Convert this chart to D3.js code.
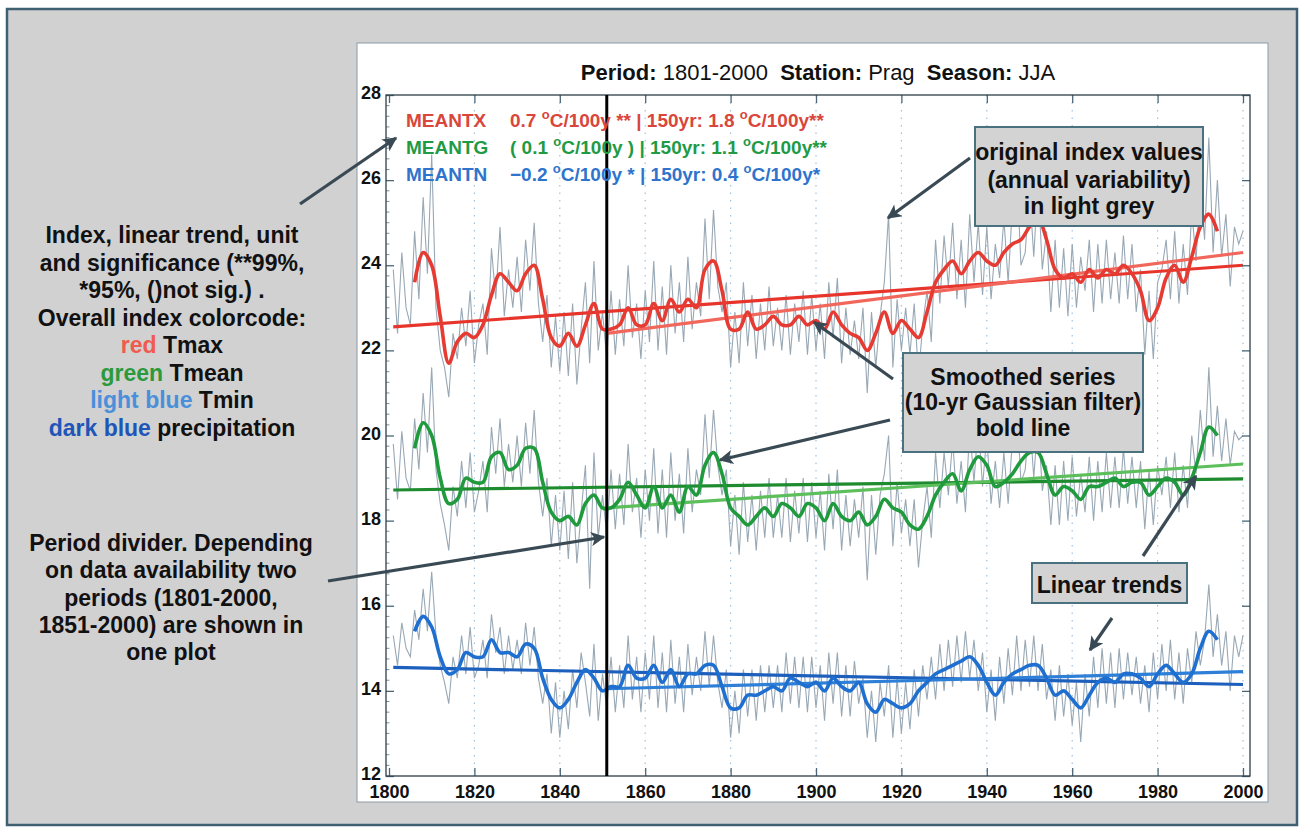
<!DOCTYPE html>
<html>
<head>
<meta charset="utf-8">
<script src="https://cdn.jsdelivr.net/npm/d3@7"></script>
<style>
  body { margin: 0; background: #fff; }
  text { font-family: "Liberation Sans", Arial, Helvetica, sans-serif; }
</style>
</head>
<body>
<div id="chart"></div>
<script>
// ---- data ----
const years = d3.range(1801, 2001);
const smoothYears = d3.range(1806, 1996, 2);

// MEANTX (Tmax) annual values
const tx = [
  23.9, 22.4, 24.3, 23.0, 22.6, 24.8, 23.2, 25.6, 23.8, 26.6,
  23.0, 22.0, 21.6, 20.9, 22.4, 21.8, 23.0, 22.1, 23.4, 21.7,
  22.6, 23.1, 21.9, 24.4, 23.2, 24.9, 22.8, 23.9, 23.0, 24.2,
  22.9, 24.6, 23.4, 25.0, 23.1, 22.2, 23.3, 21.6, 22.8, 21.5,
  22.9, 21.4, 23.1, 21.2, 22.5, 23.6, 21.7, 24.1, 22.0, 22.9,
  21.8, 23.4, 21.9, 23.2, 22.1, 24.0, 22.3, 23.1, 21.8, 23.4,
  22.2, 24.1, 22.0, 23.5, 21.9, 24.0, 22.4, 23.6, 22.2, 24.2,
  22.5, 23.6, 22.8, 25.1, 23.2, 25.3, 23.5, 22.9, 23.6, 21.6,
  22.9, 21.7, 23.6, 22.1, 23.3, 21.8, 23.1, 22.0, 23.5, 22.1,
  23.0, 22.0, 23.3, 21.9, 23.1, 22.2, 23.4, 21.9, 23.3, 22.0,
  23.1, 21.8, 23.6, 22.3, 23.7, 21.7, 23.0, 21.9, 22.7, 21.8,
  23.0, 21.0, 22.9, 21.6, 22.8, 23.6, 25.2, 21.6, 23.2, 22.0,
  23.0, 21.9, 23.1, 21.4, 22.6, 23.4, 22.2, 24.6, 23.1, 24.7,
  23.5, 25.0, 23.2, 24.6, 23.0, 25.2, 23.6, 25.0, 23.3, 24.9,
  23.2, 24.5, 23.7, 25.1, 23.6, 25.4, 26.3, 24.0, 24.3, 25.8,
  24.2, 26.0, 23.9, 24.8, 22.9, 24.6, 23.0, 24.4, 22.8, 24.5,
  23.0, 24.2, 23.4, 24.6, 22.9, 24.5, 23.1, 24.6, 23.2, 24.3,
  23.1, 24.7, 23.2, 24.5, 22.9, 23.9, 21.9, 23.4, 21.8, 23.6,
  23.9, 24.6, 23.2, 24.8, 23.1, 24.5, 23.3, 25.3, 24.1, 25.9,
  24.6, 27.0, 24.3, 26.0, 24.2, 25.2, 23.5, 24.9, 24.5, 24.8
];

// MEANTG (Tmean) annual values
const tg = [
  19.8, 18.5, 20.1, 19.0, 18.7, 20.4, 19.2, 21.0, 19.6, 21.6,
  19.2, 18.4, 17.9, 17.3, 18.8, 18.1, 19.4, 18.3, 19.6, 18.2,
  18.7, 19.4, 18.2, 20.2, 19.1, 20.4, 18.8, 19.8, 18.9, 20.0,
  18.8, 20.3, 19.1, 20.6, 18.9, 18.1, 19.0, 17.4, 18.6, 17.3,
  18.7, 17.1, 18.9, 17.0, 18.2, 19.3, 16.4, 19.6, 17.6, 18.6,
  17.7, 19.2, 17.8, 19.1, 17.9, 19.8, 18.2, 19.0, 17.6, 19.2,
  18.0, 19.7, 17.7, 19.2, 17.6, 19.6, 18.0, 19.1, 17.7, 19.7,
  18.2, 19.2, 18.6, 20.5, 19.0, 20.6, 19.3, 18.6, 19.2, 17.4,
  18.6, 17.2, 18.9, 17.5, 18.6, 17.3, 18.7, 17.6, 19.0, 17.6,
  18.6, 17.6, 19.0, 17.5, 18.7, 17.7, 19.0, 17.5, 18.9, 17.6,
  18.7, 17.3, 19.1, 17.8, 19.2, 17.3, 18.6, 17.4, 18.5, 17.6,
  18.8, 16.6, 18.6, 17.2, 18.6, 19.1, 20.0, 17.4, 18.9, 17.7,
  18.5, 17.4, 18.5, 16.9, 18.0, 18.8, 17.6, 19.6, 18.3, 19.6,
  18.6, 19.9, 18.4, 19.4, 18.2, 20.2, 18.9, 20.3, 18.8, 20.0,
  18.4, 19.4, 18.3, 19.6, 18.4, 19.9, 20.8, 18.9, 19.2, 20.5,
  19.0, 20.4, 18.7, 19.3, 17.9, 19.3, 17.9, 19.4, 18.0, 19.5,
  18.1, 19.1, 18.2, 19.5, 18.0, 19.4, 18.2, 19.6, 18.3, 19.5,
  18.3, 19.7, 18.4, 19.5, 18.3, 19.4, 17.8, 19.2, 17.9, 19.3,
  18.6, 19.5, 18.3, 19.6, 18.2, 19.3, 18.3, 20.0, 19.1, 20.6,
  19.4, 21.6, 19.5, 20.7, 19.4, 20.4, 19.3, 20.1, 19.9, 20.0
];

// MEANTN (Tmin) annual values
const tn = [
  15.3, 14.6, 15.6, 15.0, 14.8, 15.9, 15.2, 16.4, 15.4, 16.8,
  15.3, 14.6, 14.2, 13.7, 14.8, 14.3, 15.3, 14.4, 15.5, 14.3,
  14.6, 15.2, 14.3, 15.8, 14.9, 15.5, 14.4, 15.3, 14.5, 15.2,
  14.4, 15.6, 14.6, 15.5, 14.3, 13.7, 14.4, 13.0, 14.2, 12.9,
  14.0, 13.1, 14.5, 13.6, 14.9, 14.2, 13.4, 15.1, 13.3, 14.4,
  13.6, 14.8, 13.5, 14.6, 13.6, 15.3, 13.8, 14.8, 13.5, 14.9,
  13.8, 15.3, 13.6, 14.9, 13.5, 15.2, 13.7, 14.8, 13.5, 15.1,
  13.9, 14.8, 14.0, 15.4, 14.1, 15.3, 14.2, 13.6, 14.5, 12.9,
  14.0, 13.0, 14.5, 13.4, 14.5, 13.3, 14.6, 13.5, 14.6, 13.6,
  14.6, 13.5, 14.9, 13.7, 14.8, 13.6, 14.8, 13.5, 14.8, 13.6,
  14.6, 13.3, 14.9, 13.7, 14.9, 13.4, 14.6, 13.4, 14.7, 13.7,
  14.3, 12.9, 14.0, 12.8, 14.2, 13.4, 14.6, 12.9, 14.3, 13.0,
  14.2, 13.1, 14.5, 13.4, 14.6, 13.8, 14.8, 13.8, 15.1, 14.0,
  15.2, 14.1, 15.3, 14.2, 15.4, 14.3, 15.2, 14.0, 14.9, 13.5,
  14.5, 13.3, 14.8, 13.7, 15.0, 13.9, 15.3, 14.0, 15.2, 14.1,
  15.3, 14.0, 15.1, 13.8, 14.5, 13.3, 14.6, 13.4, 14.4, 13.2,
  14.2, 12.8, 14.4, 13.4, 14.8, 13.6, 15.0, 13.7, 14.9, 13.6,
  15.0, 13.8, 14.9, 13.9, 14.8, 13.7, 14.6, 13.5, 14.9, 13.8,
  15.1, 14.0, 15.2, 13.8, 14.9, 13.7, 15.0, 14.2, 15.4, 14.6,
  15.2, 16.5, 14.8, 15.8, 14.6, 15.4, 14.0, 15.3, 14.8, 15.3
];

// 10-yr Gaussian smoothed series (bold lines), every 2nd year 1806-1994
const txSmooth = [
  23.6, 24.3, 24.0, 22.8, 21.7, 22.2, 22.4, 22.3, 22.6, 23.3, 23.8, 23.6,
  23.4, 23.8, 24.0, 23.2, 22.3, 22.1, 22.4, 22.1, 22.6, 23.1, 22.5,
  22.5, 22.6, 23.0, 22.6, 22.6, 23.1, 22.7, 23.2, 22.9, 23.2,
  23.0, 23.9, 24.1, 23.4, 22.5, 22.5, 22.9, 22.5, 22.6, 22.8,
  22.6, 22.6, 22.8, 22.6, 22.7, 22.5, 22.9, 22.6, 22.4, 22.3,
  22.0, 22.4, 22.9, 22.4, 22.7, 22.5, 22.3, 22.9, 23.6, 23.9,
  24.1, 23.8, 24.1, 24.3, 24.1, 24.0, 24.3, 24.5, 24.6, 24.9,
  25.1, 24.6, 23.9, 23.7, 23.8, 23.6, 23.9, 23.7, 23.9, 23.8,
  24.0, 23.8, 23.4, 22.7, 23.0, 23.7, 24.0, 23.6, 24.2, 24.9,
  25.2, 24.8
];
const tgSmooth = [
  19.7, 20.3, 20.0, 19.0, 18.4, 18.5, 19.0, 18.9, 18.9, 19.5, 19.6, 19.2,
  19.3, 19.7, 19.7, 18.9, 18.2, 18.0, 18.1, 17.9, 18.4, 18.6, 18.3,
  18.3, 18.5, 18.9, 18.6, 18.3, 18.8, 18.3, 18.6, 18.2, 18.8,
  18.6, 19.3, 19.6, 19.1, 18.3, 18.1, 17.9, 18.1, 18.3, 18.1,
  18.4, 18.3, 18.1, 18.4, 18.3, 18.0, 18.4, 18.1, 18.0, 18.2,
  17.9, 18.1, 18.5, 18.3, 18.2, 17.9, 17.8, 18.1, 18.6, 18.9,
  19.1, 18.7, 19.2, 19.5, 19.3, 18.8, 18.9, 19.1, 19.4, 19.6,
  19.6, 19.1, 18.6, 18.8, 18.7, 18.5, 18.8, 18.8, 18.9, 19.0,
  18.8, 18.9, 18.9, 18.6, 18.8, 19.0, 18.9, 18.6, 19.0, 19.6,
  20.2, 20.0
];
const tnSmooth = [
  15.4, 15.75, 15.5, 14.8, 14.4, 14.5, 14.9, 14.8, 14.8, 15.2, 14.9, 14.9,
  14.8, 15.1, 15.0, 14.3, 13.8, 13.6, 13.8, 14.2, 14.5, 14.3, 14.0,
  14.1, 14.1, 14.6, 14.3, 14.3, 14.6, 14.2, 14.5, 14.1, 14.4,
  14.4, 14.6, 14.6, 14.1, 13.6, 13.6, 13.9, 13.9, 14.0, 14.1,
  14.0, 14.3, 14.2, 14.1, 14.2, 14.0, 14.3, 14.1, 14.0, 14.2,
  13.7, 13.5, 13.8, 13.7, 13.6, 13.7, 14.0, 14.2, 14.4, 14.5,
  14.6, 14.7, 14.8, 14.6, 14.2, 13.9, 14.2, 14.4, 14.5, 14.6,
  14.6, 14.3, 13.9, 14.0, 13.8, 13.6, 13.9, 14.2, 14.3, 14.2,
  14.4, 14.4, 14.3, 14.1, 14.4, 14.6, 14.4, 14.2, 14.4, 15.0,
  15.4, 15.2
];

// linear trends: endpoints of the 1801-2000 and 1851-2000 periods
const trendYearsFull = [1801, 2000];
const trendYears150 = [1851, 2000];
const txTrendFull = [22.55, 24.0];
const txTrend150 = [22.4, 24.3];
const tgTrendFull = [18.72, 18.98];
const tgTrend150 = [18.3, 19.33];
const tnTrendFull = [14.55, 14.15];
const tnTrend150 = [14.05, 14.45];

const dividerYear = 1851;
const xTicks = [1800, 1820, 1840, 1860, 1880, 1900, 1920, 1940, 1960, 1980, 2000];
const yTicks = [12, 14, 16, 18, 20, 22, 24, 26, 28];

const legendNames = ["MEANTX", "MEANTG", "MEANTN"];
const legendTrends = [
  "0.7 °C/100y ** | 150yr: 1.8 °C/100y**",
  "( 0.1 °C/100y ) | 150yr: 1.1 °C/100y**",
  "\u22120.2 °C/100y * | 150yr: 0.4 °C/100y*"
];

// ---- layout ----
const W = 1304, H = 833;
const frame = { left: 386, right: 1250, top: 95, bottom: 776 };

const svg = d3.select("#chart").append("svg")
  .attr("width", W).attr("height", H)
  .style("display", "block");

// outer grey panel
svg.append("rect")
  .attr("x", 7).attr("y", 9).attr("width", 1290).attr("height", 816)
  .attr("fill", "#d1d1d1").attr("stroke", "#3e6070").attr("stroke-width", 2.5);

// white figure panel
svg.append("rect")
  .attr("x", 357).attr("y", 43).attr("width", 911).attr("height", 759)
  .attr("fill", "#fff").attr("stroke", "#8c9ba6").attr("stroke-width", 1);

const x = d3.scaleLinear().domain([1800, 2000]).range([389, 1243]);
const y = d3.scaleLinear().domain([12, 28]).range([frame.bottom, frame.top]);

const plot = svg.append("g");

// dotted grid
plot.selectAll(".grid")
  .data(xTicks.slice(1))
  .join("line")
  .attr("x1", d => x(d)).attr("x2", d => x(d))
  .attr("y1", frame.top).attr("y2", frame.bottom)
  .attr("stroke", "#9fc2de").attr("stroke-width", 1.2)
  .attr("stroke-dasharray", "1.5,6");

// axes
const xAxisB = d3.axisBottom(x).tickValues(xTicks).tickSizeInner(-8).tickSizeOuter(0).tickFormat(d3.format("d"));
const xAxisT = d3.axisTop(x).tickValues(xTicks).tickSizeInner(-8).tickSizeOuter(0).tickFormat("");
const yAxisL = d3.axisLeft(y).tickValues(yTicks).tickSizeInner(-8).tickSizeOuter(0);
const yAxisR = d3.axisRight(y).tickValues(yTicks).tickSizeInner(-8).tickSizeOuter(0).tickFormat("");

function styleAxis(g) {
  g.select(".domain").remove();
  g.selectAll(".tick line").attr("stroke", "#4a6678").attr("stroke-width", 1.3);
  g.selectAll("text")
    .attr("fill", "#111")
    .style("font-size", "18px")
    .style("font-weight", "bold");
}

svg.append("g").attr("transform", `translate(0,${frame.bottom})`).call(xAxisB).call(styleAxis)
  .selectAll("text").attr("y", 9).attr("dy", "0.71em");
svg.append("g").attr("transform", `translate(0,${frame.top})`).call(xAxisT).call(styleAxis);
svg.append("g").attr("transform", `translate(${frame.left},0)`).call(yAxisL).call(styleAxis)
  .selectAll("text").attr("x", -5).attr("dy", "0.2em");
svg.append("g").attr("transform", `translate(${frame.right},0)`).call(yAxisR).call(styleAxis);

// minor ticks on the left axis
plot.selectAll(".minor")
  .data(d3.range(12, 28.01, 0.25).filter(v => v % 2 !== 0))
  .join("line")
  .attr("x1", frame.left).attr("x2", frame.left + 3.5)
  .attr("y1", d => y(d)).attr("y2", d => y(d))
  .attr("stroke", "#6d8796").attr("stroke-width", 0.9);

// annual values in light grey
const annualLine = d3.line().x((d, i) => x(years[i])).y(d => y(d));
[tx, tg, tn].forEach(s => {
  plot.append("path").datum(s)
    .attr("d", annualLine)
    .attr("fill", "none")
    .attr("stroke", "#98a8b5")
    .attr("stroke-width", 1.1);
});

// linear trends
const trendLine = yrs => d3.line().x((d, i) => x(yrs[i])).y(d => y(d));
const trends = [
  { v: txTrendFull, yrs: trendYearsFull, c: "#e8352c" },
  { v: txTrend150, yrs: trendYears150, c: "#f2675c" },
  { v: tgTrendFull, yrs: trendYearsFull, c: "#1e8b2f" },
  { v: tgTrend150, yrs: trendYears150, c: "#5dbf5c" },
  { v: tnTrendFull, yrs: trendYearsFull, c: "#1d5fbd" },
  { v: tnTrend150, yrs: trendYears150, c: "#2d7fd7" }
];
trends.forEach(t => {
  plot.append("path").datum(t.v)
    .attr("d", trendLine(t.yrs))
    .attr("fill", "none")
    .attr("stroke", t.c)
    .attr("stroke-width", 3.2);
});

// smoothed series (bold)
const smoothLine = d3.line()
  .x((d, i) => x(smoothYears[i])).y(d => y(d))
  .curve(d3.curveCatmullRom.alpha(0.5));
[
  { v: txSmooth, c: "#e63b32" },
  { v: tgSmooth, c: "#1f9a3c" },
  { v: tnSmooth, c: "#1f6fd0" }
].forEach(s => {
  plot.append("path").datum(s.v)
    .attr("d", smoothLine)
    .attr("fill", "none")
    .attr("stroke", s.c)
    .attr("stroke-width", 3.6)
    .attr("stroke-linejoin", "round");
});

// frame
svg.append("rect")
  .attr("x", frame.left).attr("y", frame.top)
  .attr("width", frame.right - frame.left).attr("height", frame.bottom - frame.top)
  .attr("fill", "none").attr("stroke", "#2d3e48").attr("stroke-width", 1.3);

// period divider
svg.append("line")
  .attr("x1", x(dividerYear)).attr("x2", x(dividerYear))
  .attr("y1", frame.top).attr("y2", frame.bottom)
  .attr("stroke", "#000").attr("stroke-width", 3);

// title
const title = svg.append("text")
  .attr("x", 818).attr("y", 80)
  .attr("text-anchor", "middle")
  .style("font-size", "22px").attr("fill", "#111");
[["Period: ", true], ["1801-2000  ", false], ["Station: ", true], ["Prag  ", false], ["Season: ", true], ["JJA", false]]
  .forEach(([t, b]) => title.append("tspan").style("font-weight", b ? "bold" : "normal")
    .attr("xml:space", "preserve").text(t));

// legend with superscript degree
const legendColors = ["#d9463b", "#1f9a45", "#2f74cc"];
legendNames.forEach((name, i) => {
  const yy = 127 + i * 27;
  const g = svg.append("g").attr("fill", legendColors[i])
    .style("font-size", "19px").style("font-weight", "bold");
  g.append("text").attr("x", 406).attr("y", yy).text(name);
  const t = g.append("text").attr("x", 510).attr("y", yy).attr("xml:space", "preserve");
  legendTrends[i].split("°").forEach((part, k) => {
    if (k > 0) {
      t.append("tspan").attr("dy", -8).style("font-size", "13px").text("o");
      t.append("tspan").attr("dy", 8).text(part);
    } else {
      t.append("tspan").text(part);
    }
  });
});

// left annotation texts
const noteFont = "23px";
const leftLines = [
  [["Index, linear trend, unit", "#111"]],
  [["and significance (**99%,", "#111"]],
  [["*95%, ()not sig.) .", "#111"]],
  [["Overall index colorcode:", "#111"]],
  [["red", "#f05a4f"], [" Tmax", "#111"]],
  [["green", "#2a9a3c"], [" Tmean", "#111"]],
  [["light blue", "#4a8fda"], [" Tmin", "#111"]],
  [["dark blue", "#1f55b8"], [" precipitation", "#111"]]
];
leftLines.forEach((segs, i) => {
  const t = svg.append("text")
    .attr("x", 172).attr("y", 243 + i * 27.5)
    .attr("text-anchor", "middle").attr("xml:space", "preserve")
    .style("font-size", noteFont).style("font-weight", "bold");
  segs.forEach(([s, c]) => t.append("tspan").attr("fill", c).text(s));
});

const dividerLines = ["Period divider. Depending", "on data availability two", "periods (1801-2000,", "1851-2000) are shown in", "one plot"];
svg.selectAll(".divnote")
  .data(dividerLines)
  .join("text")
  .attr("x", 171).attr("y", (d, i) => 551 + i * 27.3)
  .attr("text-anchor", "middle")
  .style("font-size", noteFont).style("font-weight", "bold").attr("fill", "#111")
  .text(d => d);

// callout boxes
const boxes = [
  { x: 975, y: 127, w: 228, h: 99, lines: ["original index values", "(annual variability)", "in light grey"], ly: [160, 188, 214] },
  { x: 903, y: 353, w: 240, h: 99, lines: ["Smoothed series", "(10-yr Gaussian filter)", "bold line"], ly: [385, 410, 436] },
  { x: 1032, y: 563, w: 155, h: 40, lines: ["Linear trends"], ly: [593] }
];
boxes.forEach(b => {
  svg.append("rect")
    .attr("x", b.x).attr("y", b.y).attr("width", b.w).attr("height", b.h)
    .attr("fill", "#d3d3d3").attr("stroke", "#4a7180").attr("stroke-width", 2);
  b.lines.forEach((l, i) => {
    svg.append("text")
      .attr("x", b.x + b.w / 2).attr("y", b.ly[i])
      .attr("text-anchor", "middle")
      .style("font-size", noteFont).style("font-weight", "bold").attr("fill", "#111")
      .text(l);
  });
});

// arrows
svg.append("defs").append("marker")
  .attr("id", "ah").attr("viewBox", "0 0 10 10")
  .attr("refX", 9).attr("refY", 5)
  .attr("markerWidth", 5).attr("markerHeight", 4.5)
  .attr("markerUnits", "strokeWidth")
  .attr("orient", "auto")
  .append("path").attr("d", "M0,0 L10,5 L0,10 L2.5,5 Z").attr("fill", "#3a4a55");

const arrows = [
  [300, 204, 396, 138],
  [328, 581, 604, 537],
  [970, 158, 888, 218],
  [893, 379, 814, 322],
  [890, 420, 720, 460],
  [1143, 556, 1196, 476],
  [1112, 618, 1090, 650]
];
svg.selectAll(".arrow")
  .data(arrows)
  .join("line")
  .attr("x1", d => d[0]).attr("y1", d => d[1])
  .attr("x2", d => d[2]).attr("y2", d => d[3])
  .attr("stroke", "#3a4a55").attr("stroke-width", 3.2)
  .attr("marker-end", "url(#ah)");
</script>
</body>
</html>
